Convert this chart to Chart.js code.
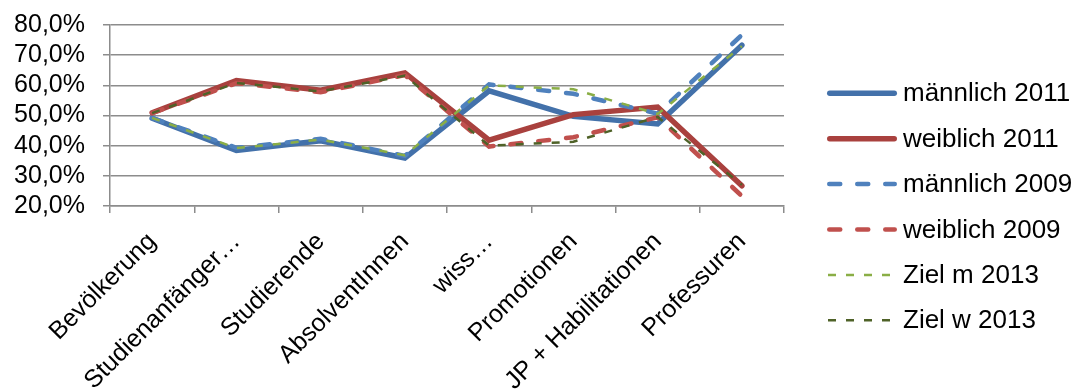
<!DOCTYPE html>
<html>
<head>
<meta charset="utf-8">
<script src="https://cdn.jsdelivr.net/npm/chart.js@4/dist/chart.umd.min.js"></script>
<style>
  html, body { margin: 0; padding: 0; background: #ffffff; }
  canvas { display: block; }
</style>
</head>
<body>
<canvas id="c" width="1078" height="392"></canvas>
<script>
const categories = ['Bevölkerung', 'Studienanfänger…', 'Studierende', 'AbsolventInnen', 'wiss…', 'Promotionen', 'JP + Habilitationen', 'Professuren'];
const maennlich2011 = [49.1, 38.4, 41.6, 35.9, 58.2, 49.7, 47.2, 73.3];
const weiblich2011  = [50.9, 61.6, 58.4, 64.1, 41.8, 50.3, 52.8, 26.7];
const maennlich2009 = [49.2, 39.3, 42.3, 36.6, 60.3, 57.2, 50.6, 76.7];
const weiblich2009  = [50.8, 60.7, 57.7, 63.4, 39.7, 42.8, 49.4, 23.3];
const zielM2013     = [49.2, 39.2, 42.0, 36.8, 60.0, 58.7, 50.5, 73.0];
const zielW2013     = [50.8, 60.8, 58.0, 63.2, 40.0, 41.3, 49.5, 27.0];
const seriesNames = ['männlich 2011', 'weiblich 2011', 'männlich 2009', 'weiblich 2009', 'Ziel m 2013', 'Ziel w 2013'];
const yTickValues = [20, 30, 40, 50, 60, 70, 80];

const FONT = 'Liberation Sans, Arial, sans-serif';

function ds(label, data, color, width, dash, cap, order) {
  return {
    label, data,
    borderColor: color, backgroundColor: color,
    borderWidth: width, borderDash: dash, borderCapStyle: cap,
    pointRadius: 0, pointHoverRadius: 0, pointBorderWidth: 0, tension: 0, fill: false, order
  };
}

const legendPlugin = {
  id: 'sideLegend',
  afterDraw(chart) {
    const ctx = chart.ctx;
    const sets = chart.data.datasets;
    ctx.save();
    sets.forEach((d, i) => {
      const y = 93.3 + i * 45.4;
      ctx.beginPath();
      ctx.lineWidth = d.borderWidth;
      ctx.strokeStyle = d.borderColor;
      ctx.lineCap = d.borderCapStyle;
      ctx.setLineDash(d.borderDash || []);
      const round = d.borderCapStyle === 'round';
      const x1 = round ? 827 + d.borderWidth / 2 : 828;
      const x2 = round ? 897 - d.borderWidth / 2 : 890;
      ctx.moveTo(x1, y);
      ctx.lineTo(x2, y);
      ctx.stroke();
      ctx.setLineDash([]);
      ctx.fillStyle = '#000000';
      ctx.font = '26px ' + FONT;
      ctx.textBaseline = 'middle';
      ctx.textAlign = 'left';
      ctx.fillText(d.label, 903, y + 1);
    });
    ctx.restore();
  }
};

new Chart(document.getElementById('c'), {
  type: 'line',
  data: {
    labels: categories,
    datasets: [
      ds(seriesNames[0], maennlich2011, '#4371AA', 5.5, [], 'round', 5),
      ds(seriesNames[1], weiblich2011, '#A9413E', 5.5, [], 'round', 4),
      ds(seriesNames[2], maennlich2009, '#4F81BD', 4.5, [11, 17], 'round', 3),
      ds(seriesNames[3], weiblich2009, '#C0504D', 4.5, [11, 17], 'round', 2),
      ds(seriesNames[4], zielM2013, '#8AAE46', 2.5, [8, 10], 'butt', 1),
      ds(seriesNames[5], zielW2013, '#4F6228', 2.5, [8, 10], 'butt', 0)
    ]
  },
  options: {
    responsive: false,
    animation: false,
    layout: { padding: { left: 0, right: 294, top: 25, bottom: 0 } },
    plugins: {
      legend: { display: false },
      tooltip: { enabled: false },
      title: { display: false }
    },
    scales: {
      x: {
        type: 'category',
        offset: true,
        grid: { display: true, drawOnChartArea: false, drawTicks: true, offset: true, tickLength: 7, color: '#8c8c8c', lineWidth: 1.5 },
        border: { display: true, color: '#8c8c8c', width: 1.5 },
        ticks: {
          autoSkip: false, minRotation: 45, maxRotation: 45, padding: 14,
          color: '#000000', font: { family: FONT, size: 25 }
        },
        afterFit(scale) { scale.height = 186; }
      },
      y: {
        min: 20, max: 80,
        afterBuildTicks(scale) { scale.ticks = yTickValues.map(v => ({ value: v })); },
        grid: { color: '#8c8c8c', lineWidth: 1.5, tickLength: 7, drawTicks: true },
        border: { display: true, color: '#8c8c8c', width: 1.5 },
        ticks: {
          autoSkip: false, padding: 18, color: '#000000', font: { family: FONT, size: 25 },
          callback: v => v.toFixed(1).replace('.', ',') + '%'
        },
        afterFit(scale) { scale.width = 110; scale.paddingTop = 0; scale.paddingBottom = 0; }
      }
    }
  },
  plugins: [legendPlugin]
});
</script>
</body>
</html>
